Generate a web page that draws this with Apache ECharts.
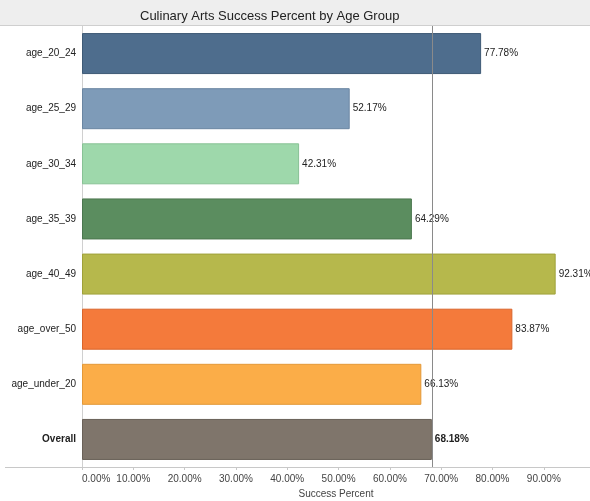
<!DOCTYPE html>
<html>
<head>
<meta charset="utf-8">
<title>Culinary Arts Success Percent by Age Group</title>
<script src="https://cdn.jsdelivr.net/npm/echarts@6/dist/echarts.min.js"></script>
<style>
  html, body { margin: 0; padding: 0; background: #fff; }
  #bar { width: 590px; height: 501px; }
</style>
</head>
<body>
<div id="bar"></div>
<script>
// 年龄组
var ageGroups = ['age_20_24', 'age_25_29', 'age_30_34', 'age_35_39', 'age_40_49', 'age_over_50', 'age_under_20', 'Overall'];
// 成功率 (%)
var successPercent = [77.78, 52.17, 42.31, 64.29, 92.31, 83.87, 66.13, 68.18];
// 参考线 = Overall
var overallPercent = 68.18;
var barColors = ['#4e6d8d', '#7e9bb8', '#9ed8ab', '#5b8d5f', '#b6b84c', '#f47a3b', '#fbad48', '#7f756b'];
var barBorders = ['#3e5a76', '#6a86a2', '#88c295', '#4b774f', '#9fa13a', '#d9652b', '#e39838', '#6a6158'];

var myBarChart = echarts.init(document.getElementById('bar'));

var barData = successPercent.map(function (v, i) {
  return {
    value: v,
    itemStyle: { color: barColors[i], borderColor: barBorders[i], borderWidth: 1 },
    label: { fontWeight: ageGroups[i] === 'Overall' ? 'bold' : 'normal' }
  };
});

var option = {
  animation: false,
  textStyle: { fontFamily: 'Liberation Sans, Arial, sans-serif' },
  title: {
    text: 'Culinary Arts Success Percent by Age Group',
    left: 135,
    top: 5,
    textStyle: { fontSize: 13, fontWeight: 'normal', color: '#222' }
  },
  graphic: [
    // 标题背景条
    { type: 'rect', z: -1, shape: { x: 0, y: 0, width: 590, height: 25 }, style: { fill: '#eeeeee' } },
    { type: 'line', shape: { x1: 0, y1: 25.5, x2: 590, y2: 25.5 }, style: { stroke: '#cfcfcf', lineWidth: 1 } },
    // 底部横线
    { type: 'line', shape: { x1: 5, y1: 467.5, x2: 82, y2: 467.5 }, style: { stroke: '#c8c8c8', lineWidth: 1 } }
  ],
  grid: {
    top: 26,
    bottom: 34,
    left: 82,
    right: 0,
    outerBoundsMode: 'none'
  },
  xAxis: {
    type: 'value',
    min: 0,
    max: 99,
    interval: 10,
    name: 'Success Percent',
    nameLocation: 'middle',
    nameGap: 20,
    nameTextStyle: { fontSize: 10, color: '#444' },
    axisLine: { show: true, lineStyle: { color: '#c8c8c8' } },
    axisTick: { show: true, length: 3, lineStyle: { color: '#c8c8c8' } },
    splitLine: { show: false },
    axisLabel: {
      fontSize: 10,
      color: '#444',
      margin: 7,
      showMaxLabel: false,
      alignMinLabel: 'left',
      formatter: function (v) { return v.toFixed(2) + '%'; }
    }
  },
  yAxis: {
    type: 'category',
    inverse: true,
    data: ageGroups,
    axisLine: { show: true, lineStyle: { color: '#d0d0d0' } },
    axisTick: { show: false },
    axisLabel: {
      fontSize: 10,
      color: '#222',
      margin: 6,
      formatter: function (v) { return v === 'Overall' ? '{b|' + v + '}' : v; },
      rich: { b: { fontSize: 10, fontWeight: 'bold', color: '#222' } }
    }
  },
  series: [
    {
      name: 'Success Percent',
      type: 'bar',
      barWidth: 41,
      data: barData,
      label: {
        show: true,
        position: 'right',
        distance: 3,
        fontSize: 10,
        color: '#222',
        formatter: function (p) { return p.value.toFixed(2) + '%'; }
      },
      markLine: {
        silent: true,
        symbol: 'none',
        label: { show: false },
        lineStyle: { color: '#8a8a8a', width: 1, type: 'solid' },
        data: [{ xAxis: overallPercent }]
      }
    }
  ]
};
myBarChart.setOption(option);
</script>
</body>
</html>
